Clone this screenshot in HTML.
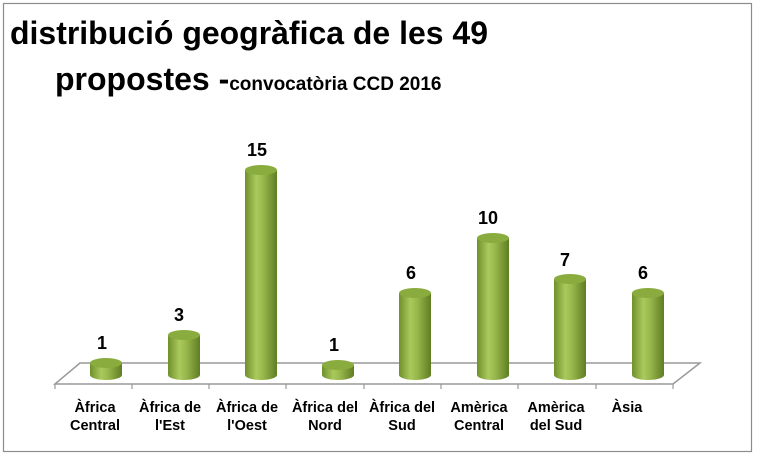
<!DOCTYPE html>
<html><head><meta charset="utf-8"><style>
html,body{margin:0;padding:0;background:#fff}
svg{display:block}
text{font-family:"Liberation Sans",sans-serif;font-weight:bold;fill:#000}
</style></head><body>
<svg width="758" height="457" viewBox="0 0 758 457" xmlns="http://www.w3.org/2000/svg">
<defs>
<linearGradient id="g" x1="0" x2="1" y1="0" y2="0">
<stop offset="0" stop-color="#6f8f2c"/>
<stop offset="0.35" stop-color="#a9c95c"/>
<stop offset="0.55" stop-color="#9aba4e"/>
<stop offset="1" stop-color="#5f7d22"/>
</linearGradient>
</defs>
<rect x="3.5" y="3.5" width="748" height="448" fill="#fff" stroke="#8c8c8c" stroke-width="1.2"/>
<text x="10" y="44" font-size="32" textLength="478" lengthAdjust="spacingAndGlyphs">distribució geogràfica de les 49</text>
<text x="55" y="90" font-size="32">propostes -<tspan font-size="19">convocatòria CCD 2016</tspan></text>
<polygon points="55,384 80,363 700,363 673,384" fill="#fff" stroke="#999" stroke-width="1.5"/>
<g stroke="#999" stroke-width="1.2">
<line x1="55" y1="384" x2="55" y2="389"/><line x1="132" y1="384" x2="132" y2="389"/>
<line x1="209" y1="384" x2="209" y2="389"/><line x1="286" y1="384" x2="286" y2="389"/>
<line x1="364" y1="384" x2="364" y2="389"/><line x1="441" y1="384" x2="441" y2="389"/>
<line x1="518" y1="384" x2="518" y2="389"/><line x1="596" y1="384" x2="596" y2="389"/>
<line x1="673" y1="384" x2="673" y2="389"/>
</g>
<g font-size="18" text-anchor="middle">
<text x="102" y="349">1</text>
<text x="179" y="321">3</text>
<text x="257" y="156">15</text>
<text x="334" y="351">1</text>
<text x="411" y="279">6</text>
<text x="488" y="224">10</text>
<text x="565" y="266">7</text>
<text x="643" y="279">6</text>
</g>
<g font-size="14.5" text-anchor="middle">
<text x="95" y="412">Àfrica</text><text x="95" y="430">Central</text>
<text x="170" y="412">Àfrica de</text><text x="170" y="430">l'Est</text>
<text x="247" y="412">Àfrica de</text><text x="247" y="430">l'Oest</text>
<text x="325" y="412">Àfrica del</text><text x="325" y="430">Nord</text>
<text x="402" y="412">Àfrica del</text><text x="402" y="430">Sud</text>
<text x="479" y="412">Amèrica</text><text x="479" y="430">Central</text>
<text x="556" y="412">Amèrica</text><text x="556" y="430">del Sud</text>
<text x="627" y="412">Àsia</text>
</g>
<g>
<g transform="translate(106,0)"><path d="M-16,363 L-16,375 A16,5 0 0 0 16,375 L16,363 Z" fill="url(#g)"/><ellipse cx="0" cy="363" rx="16" ry="5" fill="#8aac3e"/></g>
<g transform="translate(184,0)"><path d="M-16,335 L-16,375 A16,5 0 0 0 16,375 L16,335 Z" fill="url(#g)"/><ellipse cx="0" cy="335" rx="16" ry="5" fill="#8aac3e"/></g>
<g transform="translate(261,0)"><path d="M-16,170 L-16,375 A16,5 0 0 0 16,375 L16,170 Z" fill="url(#g)"/><ellipse cx="0" cy="170" rx="16" ry="5" fill="#8aac3e"/></g>
<g transform="translate(338,0)"><path d="M-16,365 L-16,375 A16,5 0 0 0 16,375 L16,365 Z" fill="url(#g)"/><ellipse cx="0" cy="365" rx="16" ry="5" fill="#8aac3e"/></g>
<g transform="translate(415,0)"><path d="M-16,293 L-16,375 A16,5 0 0 0 16,375 L16,293 Z" fill="url(#g)"/><ellipse cx="0" cy="293" rx="16" ry="5" fill="#8aac3e"/></g>
<g transform="translate(493,0)"><path d="M-16,238 L-16,375 A16,5 0 0 0 16,375 L16,238 Z" fill="url(#g)"/><ellipse cx="0" cy="238" rx="16" ry="5" fill="#8aac3e"/></g>
<g transform="translate(570,0)"><path d="M-16,279 L-16,375 A16,5 0 0 0 16,375 L16,279 Z" fill="url(#g)"/><ellipse cx="0" cy="279" rx="16" ry="5" fill="#8aac3e"/></g>
<g transform="translate(648,0)"><path d="M-16,293 L-16,375 A16,5 0 0 0 16,375 L16,293 Z" fill="url(#g)"/><ellipse cx="0" cy="293" rx="16" ry="5" fill="#8aac3e"/></g>
</g>
</svg>
</body></html>
